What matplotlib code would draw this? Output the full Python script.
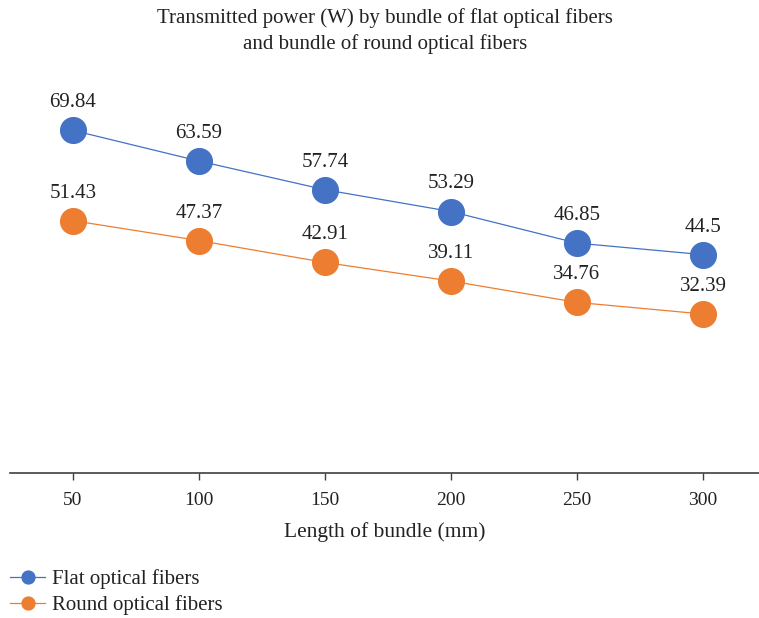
import matplotlib
matplotlib.use("Agg")
import matplotlib.pyplot as plt

plt.rcParams['font.family'] = ['Liberation Serif', 'DejaVu Serif']

lengths = ["50", "100", "150", "200", "250", "300"]
flat_power = [69.84, 63.59, 57.74, 53.29, 46.85, 44.5]
round_power = [51.43, 47.37, 42.91, 39.11, 34.76, 32.39]

blue = "#4472C4"
orange = "#ED7D31"

fig = plt.figure(figsize=(7.59, 6.18), dpi=100)
# axes run slightly past the right edge so the category spacing stays even
ax = fig.add_axes([10 / 759, 1 - 472.8 / 618, 756 / 759, (472.8 - 80.6) / 618])

x = list(range(len(lengths)))
ax.plot(x, flat_power, color=blue, lw=0.9, marker="o", ms=18.5,
        markerfacecolor=blue, markeredgecolor=blue, label="Flat optical fibers")
ax.plot(x, round_power, color=orange, lw=0.9, marker="o", ms=18.5,
        markerfacecolor=orange, markeredgecolor=orange, label="Round optical fibers")

for series in (flat_power, round_power):
    for xi, v in zip(x, series):
        ax.annotate(f"{v:g}", (xi, v), xytext=(0, 13), textcoords="offset points",
                    ha="center", va="bottom", fontsize=15, color="#222222")

ax.set_xlim(-0.5, 5.5)
ax.set_ylim(0, 80)
ax.set_xticks(x)
ax.set_xticklabels(lengths, fontsize=14, color="#222222")
ax.set_yticks([])
for s in ["top", "right", "left"]:
    ax.spines[s].set_visible(False)
ax.spines["bottom"].set_color("#404040")
ax.spines["bottom"].set_linewidth(1.2)
ax.tick_params(axis="x", length=5, width=1, color="#404040", pad=9)

fig.text(385 / 759, 1 - 31 / 618,
         "Transmitted power (W) by bundle of flat optical fibers\nand bundle of round optical fibers",
         ha="center", va="center", fontsize=15, color="#222222", linespacing=1.35)
fig.text(385 / 759, 1 - 532 / 618, "Length of bundle (mm)", ha="center", va="center",
         fontsize=15.5, color="#222222")

handles, labels = ax.get_legend_handles_labels()
leg = fig.legend(handles, labels, loc="upper left", bbox_to_anchor=(10 / 759, 1 - 569 / 618),
                 frameon=False, fontsize=15, markerscale=0.5, handlelength=1.68,
                 handletextpad=0.33, labelspacing=0.3, borderaxespad=0, borderpad=0)
for t in leg.get_texts():
    t.set_color("#222222")

fig.savefig("out.png", dpi=100)
